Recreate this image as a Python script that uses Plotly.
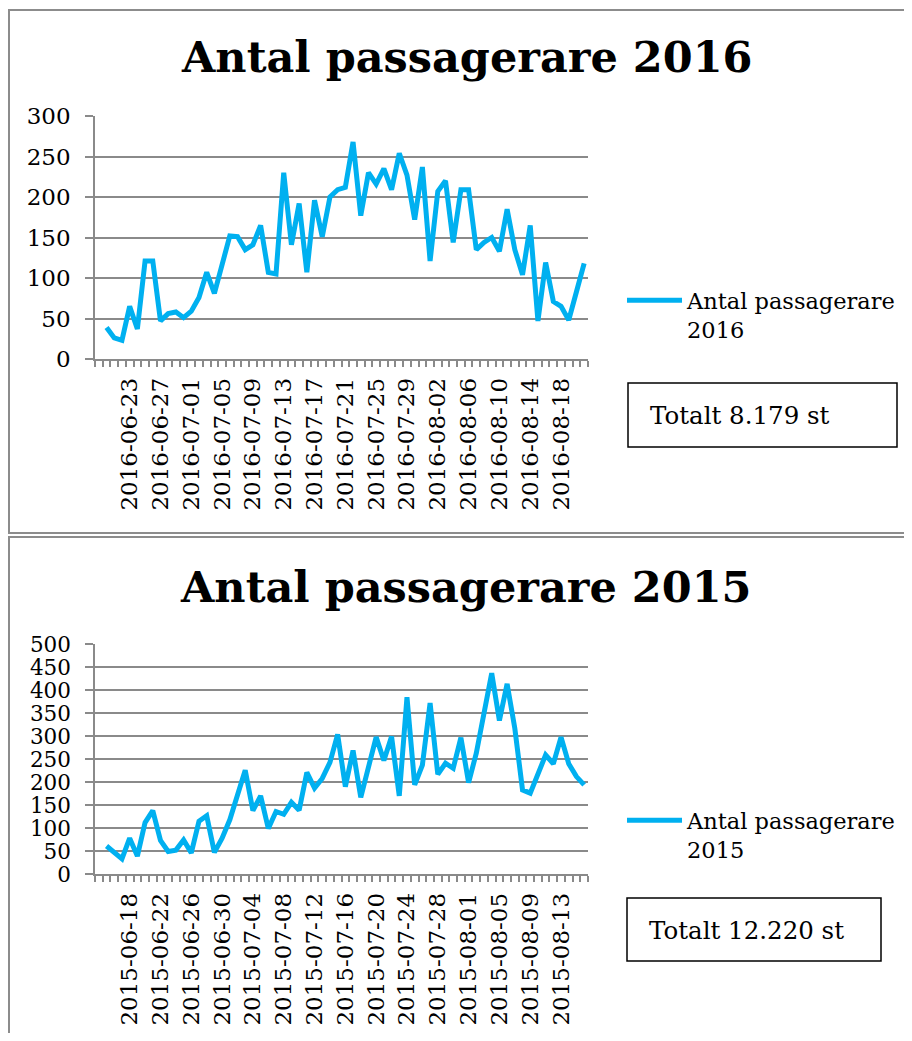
import plotly.graph_objects as go
import pandas as pd

# ---------------- data ----------------
dates_2016 = pd.date_range("2016-06-20", "2016-08-21").strftime("%Y-%m-%d").tolist()
passengers_2016 = [39, 26, 23, 65, 37, 121, 121, 47, 56, 58,
                   51, 59, 76, 107, 81, 118, 152, 151, 135, 141,
                   165, 107, 105, 230, 141, 192, 107, 196, 151, 200,
                   209, 212, 268, 177, 230, 216, 235, 209, 254, 227,
                   172, 237, 121, 207, 220, 144, 209, 209, 135, 144,
                   150, 133, 185, 135, 104, 165, 47, 119, 71, 65,
                   48, 83, 118]
tick_labels_2016 = dates_2016[3::4]

dates_2015 = pd.date_range("2015-06-15", "2015-08-16").strftime("%Y-%m-%d").tolist()
passengers_2015 = [61, 46, 33, 78, 39, 112, 138, 73, 49, 52,
                   74, 46, 115, 127, 47, 78, 118, 172, 226, 138,
                   170, 99, 136, 130, 156, 139, 221, 187, 208, 243,
                   304, 190, 269, 167, 234, 298, 247, 299, 170, 385,
                   194, 237, 372, 217, 241, 230, 297, 199, 263, 351,
                   437, 334, 414, 317, 183, 176, 219, 259, 240, 298,
                   240, 212, 194]
tick_labels_2015 = dates_2015[3::4]

titles = ["Antal passagerare 2016", "Antal passagerare 2015"]
legend_names = ["Antal passagerare<br>2016", "Antal passagerare<br>2015"]
totals = ["Totalt 8.179 st", "Totalt 12.220 st"]

# ---------------- layout helpers ----------------
# the page body keeps its default 8px margin, so the figure is 16px smaller
OFF = 8
W, H = 912 - 2 * OFF, 1041 - 2 * OFF
FONT = "DejaVu Serif"
LINE_COLOR = "#00B0F0"
GRID = "#8a8a8a"
DAY = 86400000


def px_x(x):
    return (x - OFF) / W


def px_y(y):
    return 1 - (y - OFF) / H


fig = go.Figure()
fig.add_trace(go.Scatter(x=dates_2016, y=passengers_2016, mode="lines",
                         name=legend_names[0], line=dict(color=LINE_COLOR, width=5),
                         xaxis="x", yaxis="y", legend="legend"))
fig.add_trace(go.Scatter(x=dates_2015, y=passengers_2015, mode="lines",
                         name=legend_names[1], line=dict(color=LINE_COLOR, width=5),
                         xaxis="x2", yaxis="y2", legend="legend2"))


def xaxis_cfg(start, end, labels, minor0, anchor):
    return dict(
        type="date", domain=[px_x(95), px_x(588)], anchor=anchor, automargin=False,
        range=[start, end], tickmode="array", tickvals=labels, ticktext=labels,
        tickangle=-90, ticks="outside", ticklen=0, tickcolor=GRID,
        minor=dict(ticks="outside", ticklen=6, tickcolor=GRID, tickwidth=1.5,
                   tick0=minor0, dtick=DAY, showgrid=False),
        showgrid=False, showline=True, linecolor=GRID, linewidth=1.5,
        zeroline=False, ticklabelstandoff=8,
        tickfont=dict(family=FONT, size=23, color="black"),
    )


def yaxis_cfg(top, bottom, rmax, step, anchor, fsize):
    return dict(
        domain=[px_y(bottom), px_y(top)], anchor=anchor, range=[0, rmax], dtick=step,
        automargin=False,
        showgrid=True, gridcolor=GRID, gridwidth=1.5, showline=True,
        linecolor=GRID, linewidth=1.5, zeroline=False, ticks="outside",
        ticklen=8, tickcolor=GRID, tickwidth=1.5, ticklabelstandoff=10,
        tickfont=dict(family=FONT, size=fsize, color="black"),
    )


fig.update_layout(
    width=W, height=H, margin=dict(l=0, r=0, t=0, b=0, autoexpand=False),
    paper_bgcolor="white", plot_bgcolor="white",
    xaxis=xaxis_cfg("2016-06-18 12:00", "2016-08-21 12:00", tick_labels_2016,
                    "2016-06-18 12:00", "y"),
    yaxis=yaxis_cfg(116, 359, 300, 50, "x", 23),
    xaxis2=xaxis_cfg("2015-06-13 12:00", "2015-08-16 12:00", tick_labels_2015,
                     "2015-06-13 12:00", "y2"),
    yaxis2=yaxis_cfg(644.3, 874, 500, 50, "x2", 21.5),
    legend=dict(x=px_x(622), y=px_y(279), xanchor="left", yanchor="top",
                font=dict(family=FONT, size=22.5, color="black"), itemwidth=55,
                valign="top", bgcolor="rgba(0,0,0,0)"),
    legend2=dict(x=px_x(622), y=px_y(799), xanchor="left", yanchor="top",
                 font=dict(family=FONT, size=22.5, color="black"), itemwidth=55,
                 valign="top", bgcolor="rgba(0,0,0,0)"),
    showlegend=True,
)

shapes = [
    # chart frames
    dict(type="rect", xref="paper", yref="paper", x0=px_x(9), x1=px_x(930),
         y0=px_y(533), y1=px_y(10), line=dict(color="#8c8c8c", width=2)),
    dict(type="rect", xref="paper", yref="paper", x0=px_x(9), x1=px_x(930),
         y0=px_y(1060), y1=px_y(537), line=dict(color="#8c8c8c", width=2)),
    # total boxes
    dict(type="rect", xref="paper", yref="paper", x0=px_x(628), x1=px_x(897),
         y0=px_y(447), y1=px_y(383), line=dict(color="black", width=1.5)),
    dict(type="rect", xref="paper", yref="paper", x0=px_x(627), x1=px_x(881),
         y0=px_y(961), y1=px_y(898), line=dict(color="black", width=1.5)),
]

annotations = [
    dict(text=titles[0], xref="paper", yref="paper", x=px_x(466), y=px_y(57),
         showarrow=False, xanchor="center", yanchor="middle",
         font=dict(family=FONT, size=43, color="black", weight="bold")),
    dict(text=titles[1], xref="paper", yref="paper", x=px_x(465), y=px_y(587),
         showarrow=False, xanchor="center", yanchor="middle",
         font=dict(family=FONT, size=43, color="black", weight="bold")),
    dict(text=totals[0], xref="paper", yref="paper", x=px_x(648), y=px_y(415),
         showarrow=False, xanchor="left", yanchor="middle",
         font=dict(family=FONT, size=24.5, color="black")),
    dict(text=totals[1], xref="paper", yref="paper", x=px_x(647), y=px_y(930),
         showarrow=False, xanchor="left", yanchor="middle",
         font=dict(family=FONT, size=24.5, color="black")),
]

fig.update_layout(shapes=shapes, annotations=annotations)

fig.write_html("out.html", config={"displayModeBar": False})
